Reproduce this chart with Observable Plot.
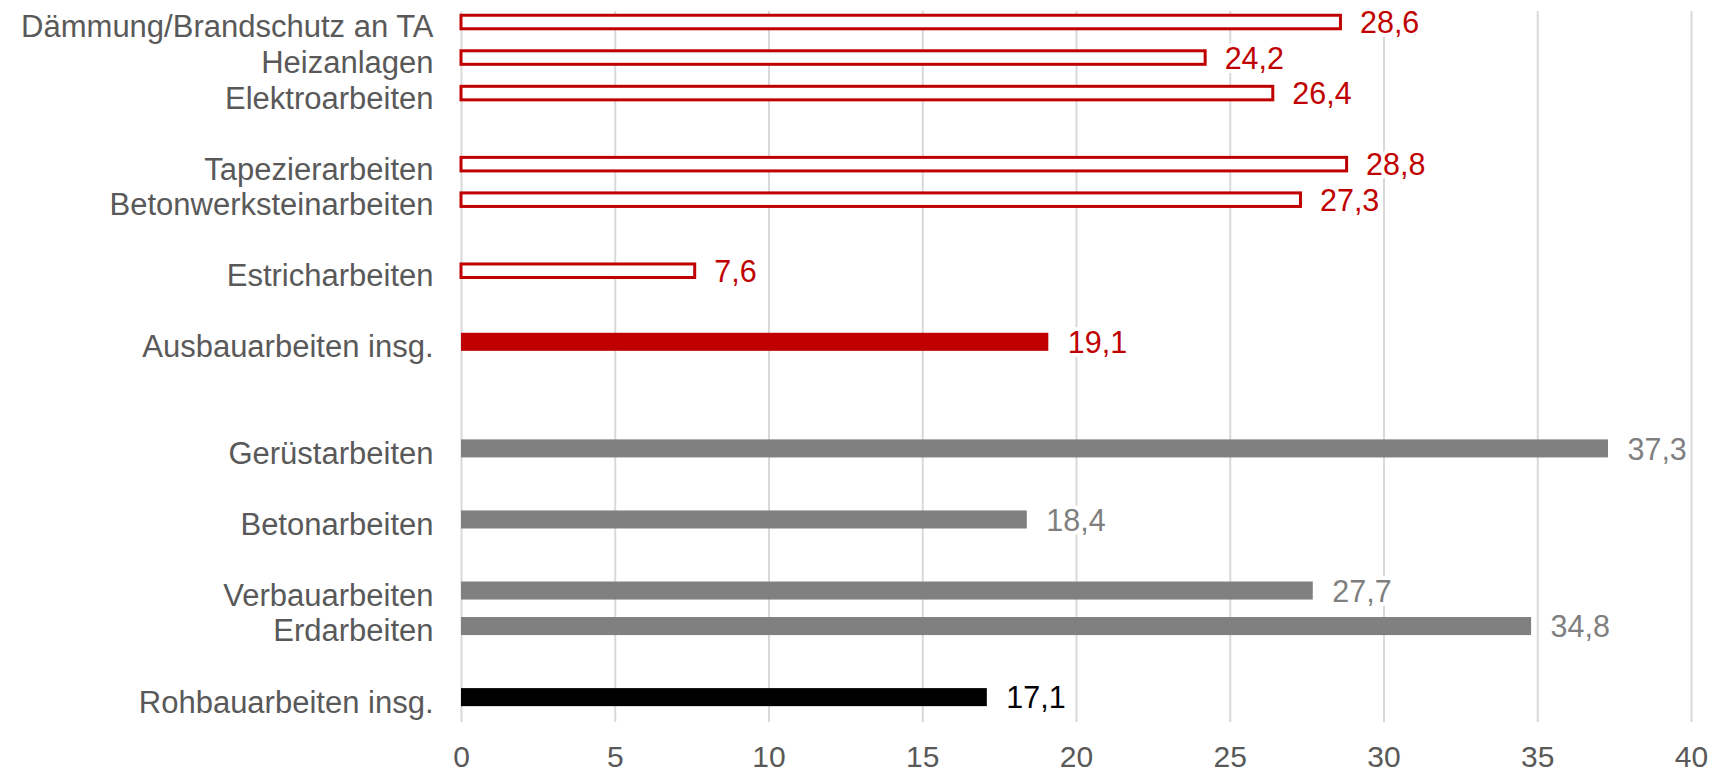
<!DOCTYPE html>
<html>
<head>
<meta charset="utf-8">
<script src="https://cdn.jsdelivr.net/npm/d3@7"></script>
<script src="https://cdn.jsdelivr.net/npm/@observablehq/plot@0.6"></script>
<style>
  html, body { margin: 0; padding: 0; background: #fff; }
  #chart svg { display: block; }
</style>
</head>
<body>
<div id="chart"></div>
<script>
// ---- data (top to bottom) ----
const categories = [
  "Dämmung/Brandschutz an TA",
  "Heizanlagen",
  "Elektroarbeiten",
  "Tapezierarbeiten",
  "Betonwerksteinarbeiten",
  "Estricharbeiten",
  "Ausbauarbeiten insg.",
  "Gerüstarbeiten",
  "Betonarbeiten",
  "Verbauarbeiten",
  "Erdarbeiten",
  "Rohbauarbeiten insg."
];
const values = [28.6, 24.2, 26.4, 28.8, 27.3, 7.6, 19.1, 37.3, 18.4, 27.7, 34.8, 17.1];
const groups = [
  "Ausbau", "Ausbau", "Ausbau", "Ausbau", "Ausbau", "Ausbau",
  "Ausbau insg.",
  "Rohbau", "Rohbau", "Rohbau", "Rohbau",
  "Rohbau insg."
];
const xTicks = [0, 5, 10, 15, 20, 25, 30, 35, 40];

// ---- layout: empty rows inserted before each category ----
const blankRowsBefore = [0, 0, 0, 1, 0, 1, 1, 2, 1, 1, 0, 1];

let slot = -1;
const rows = categories.map((name, i) => {
  slot += 1 + blankRowsBefore[i];
  return {name, value: values[i], group: groups[i], slot};
});

const RED = "#C00000", GRAY = "#808080", BLACK = "#000000";
const fillOf = {"Ausbau": "#ffffff", "Ausbau insg.": RED, "Rohbau": GRAY, "Rohbau insg.": BLACK};
const labelColorOf = {"Ausbau": RED, "Ausbau insg.": RED, "Rohbau": "#7f7f7f", "Rohbau insg.": BLACK};

const outlined = rows.filter(d => d.group === "Ausbau");
const solid = rows.filter(d => d.group !== "Ausbau");
const fmt = v => v.toFixed(1).replace(".", ",");
const slotToName = new Map(rows.map(d => [d.slot, d.name]));

const chart = Plot.plot({
  width: 1715,
  height: 773,
  marginLeft: 461,
  marginRight: 24,
  marginTop: 11,
  marginBottom: 51,
  style: {fontFamily: "'Liberation Sans', Arial, sans-serif", fontSize: "30px", background: "#fff"},
  x: {domain: [0, 40], label: null},
  y: {domain: [-0.31, 19.70], reverse: true, label: null},
  marks: [
    Plot.ruleX(xTicks, {stroke: "#d9d9d9", strokeWidth: 2}),
    Plot.rect(outlined, {
      x1: 0, x2: "value",
      y1: d => d.slot - 0.5, y2: d => d.slot + 0.5,
      insetTop: 11, insetBottom: 11,
      fill: "#ffffff", stroke: RED, strokeWidth: 3
    }),
    Plot.rect(solid, {
      x1: 0, x2: "value",
      y1: d => d.slot - 0.5, y2: d => d.slot + 0.5,
      insetTop: 8.75, insetBottom: 8.75,
      fill: d => fillOf[d.group]
    }),
    Plot.text(rows, {
      x: "value", y: "slot",
      text: d => fmt(d.value),
      fill: d => labelColorOf[d.group],
      textAnchor: "start", dx: 19, dy: 1,
      stroke: "#ffffff", strokeWidth: 8, paintOrder: "stroke",
      fontSize: 30.5
    }),
    Plot.axisY(rows.map(d => d.slot), {
      label: null,
      tickSize: 0, tickPadding: 28, dy: 5,
      tickFormat: s => slotToName.get(s),
      fill: "#595959", fontSize: 31
    }),
    Plot.axisX(xTicks, {
      label: null,
      tickSize: 0, tickPadding: 23,
      tickFormat: d => String(d),
      fill: "#595959", fontSize: 30
    })
  ]
});
chart.style.color = "#595959";
document.getElementById("chart").appendChild(chart);
</script>
</body>
</html>
